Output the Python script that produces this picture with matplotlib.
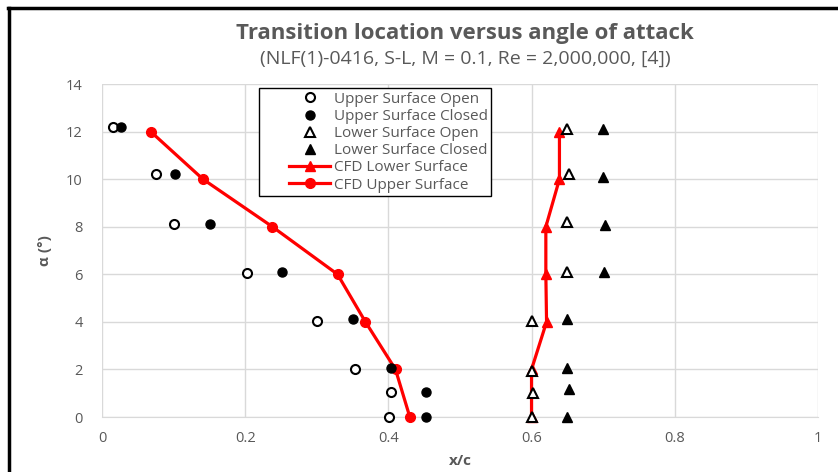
import matplotlib
matplotlib.use("Agg")
import matplotlib.pyplot as plt
from matplotlib.lines import Line2D
from matplotlib.legend_handler import HandlerLine2D

plt.rcParams["font.family"] = ["Open Sans", "DejaVu Sans"]

GREY = "#595959"
GRID = "#d9d9d9"
RED = "#ff0000"

# experiment: upper surface transition (open / closed tunnel)
upper_open_x = [0.015, 0.076, 0.100, 0.202, 0.301, 0.353, 0.404, 0.401]
upper_open_a = [12.2, 10.2, 8.1, 6.05, 4.05, 2.0, 1.05, 0.0]
upper_closed_x = [0.027, 0.102, 0.151, 0.252, 0.351, 0.404, 0.452, 0.452]
upper_closed_a = [12.2, 10.2, 8.12, 6.1, 4.1, 2.05, 1.05, 0.0]

# experiment: lower surface transition
lower_open_x = [0.650, 0.652, 0.649, 0.650, 0.600, 0.600, 0.602, 0.600]
lower_open_a = [12.1, 10.2, 8.2, 6.1, 4.05, 1.95, 1.0, 0.0]
lower_closed_x = [0.700, 0.700, 0.702, 0.701, 0.649, 0.650, 0.652, 0.650]
lower_closed_a = [12.1, 10.1, 8.07, 6.1, 4.1, 2.07, 1.17, 0.0]

# CFD predictions
cfd_alpha = [12, 10, 8, 6, 4, 2, 0]
cfd_lower_x = [0.639, 0.639, 0.620, 0.620, 0.621, 0.600, 0.600]
cfd_upper_x = [0.068, 0.141, 0.238, 0.329, 0.368, 0.410, 0.430]


class ShortLineHandler(HandlerLine2D):
    """Legend handle squeezed into the right part of the handle box."""

    frac = 0.6

    def create_artists(self, legend, orig_handle, xdescent, ydescent,
                       width, height, fontsize, trans):
        artists = super().create_artists(legend, orig_handle, xdescent, ydescent,
                                         width, height, fontsize, trans)
        right = width - xdescent
        for a in artists:
            xs = a.get_xdata()
            a.set_xdata([right - (right - x) * self.frac for x in xs])
        return artists


fig = plt.figure(figsize=(8.38, 4.72), dpi=100)
ax = fig.add_axes([0.1217, 0.1165, 0.8543, 0.7055])

ms = 6.5
common = dict(ls="none", clip_on=False)
ax.plot(upper_open_x, upper_open_a, "o", ms=ms, mfc="white", mec="black", mew=1.5,
        label="Upper Surface Open", zorder=3, **common)
ax.plot(upper_closed_x, upper_closed_a, "o", ms=ms, mfc="black", mec="black",
        label="Upper Surface Closed", zorder=3, **common)
ax.plot(lower_open_x, lower_open_a, "^", ms=ms, mfc="white", mec="black", mew=1.5,
        label="Lower Surface Open", zorder=4, **common)
ax.plot(lower_closed_x, lower_closed_a, "^", ms=ms, mfc="black", mec="black",
        label="Lower Surface Closed", zorder=3, **common)
ax.plot(cfd_lower_x, cfd_alpha, "-^", color=RED, lw=2.3, ms=ms + 0.5,
        label="CFD Lower Surface", zorder=2, clip_on=False)
ax.plot(cfd_upper_x, cfd_alpha, "-o", color=RED, lw=2.3, ms=ms + 0.5,
        label="CFD Upper Surface", zorder=2, clip_on=False)

ax.set_xlim(0, 1)
ax.set_ylim(0, 14)
ax.set_xticks([0, 0.2, 0.4, 0.6, 0.8, 1])
ax.set_xticklabels(["0", "0.2", "0.4", "0.6", "0.8", "1"])
ax.set_yticks(range(0, 15, 2))
ax.grid(True, color=GRID, lw=1.0)
ax.set_axisbelow(True)
ax.tick_params(length=0, labelsize=10.5, labelcolor=GREY, pad=10)
ax.tick_params(axis="y", pad=14)
for side in ("top", "right", "left"):
    ax.spines[side].set_visible(False)
ax.spines["bottom"].set_color(GRID)
ax.spines["bottom"].set_zorder(0)

ax.set_xlabel("x/c", fontsize=11, fontweight="bold", color=GREY, labelpad=6)
ax.set_ylabel("α (°)", fontsize=11, fontweight="bold", color=GREY, labelpad=10)

leg = ax.legend(loc="upper left", bbox_to_anchor=(0.219, 0.988), fontsize=11,
                frameon=True, fancybox=False, edgecolor="black", framealpha=1,
                borderpad=0.25, labelspacing=0.14, handlelength=4.4,
                handletextpad=0.25, borderaxespad=0.0,
                handler_map={Line2D: ShortLineHandler()})
leg.get_frame().set_linewidth(1.0)
for t in leg.get_texts():
    t.set_color(GREY)

fig.text(0.555, 0.93, "Transition location versus angle of attack",
         ha="center", va="center", fontsize=16, fontweight="bold", color=GREY)
fig.text(0.555, 0.875, "(NLF(1)-0416, S-L, M = 0.1, Re = 2,000,000, [4])",
         ha="center", va="center", fontsize=14, color=GREY)

# frame lines along the left and top edges
fig.add_artist(Line2D([0.0113, 0.0113], [0, 0.983], transform=fig.transFigure,
                      color="black", lw=2.5))
fig.add_artist(Line2D([0.0095, 1.0], [0.982, 0.982], transform=fig.transFigure,
                      color="black", lw=2.5))

fig.savefig("out.png", dpi=100, facecolor="white")
